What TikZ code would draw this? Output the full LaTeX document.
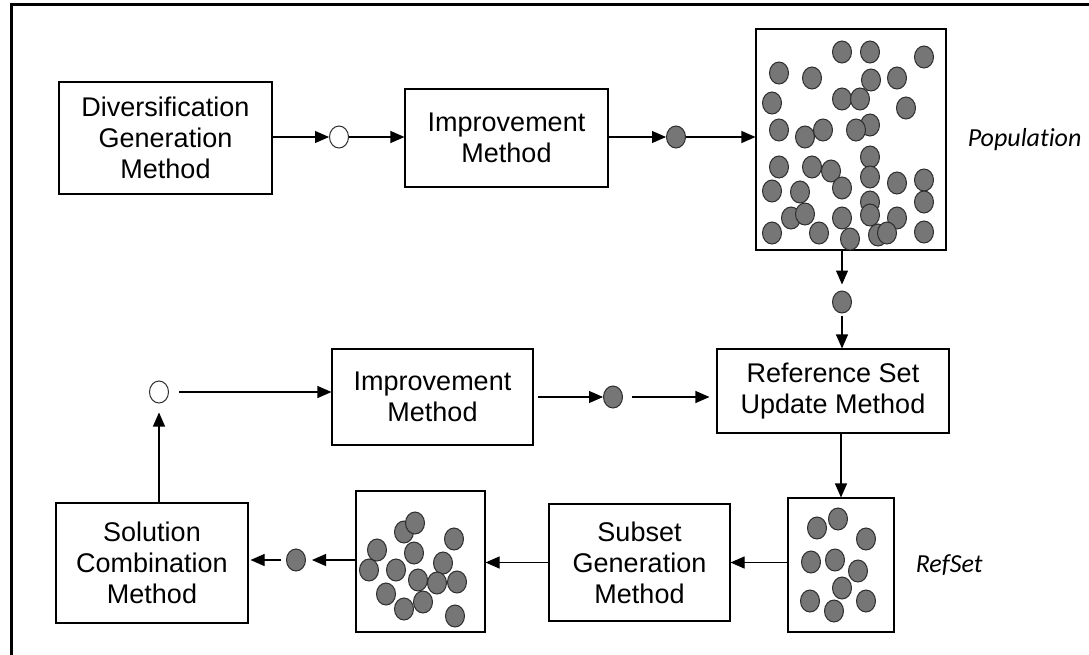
\documentclass[tikz,border=0pt]{standalone}
\usepackage{fontspec}
\setmainfont{Liberation Sans}
\newfontfamily\calfont[Ligatures=NoCommon]{Carlito}
\usetikzlibrary{positioning,arrows.meta,shapes.geometric}
\definecolor{dotc}{RGB}{118,118,118}
\definecolor{dotline}{RGB}{45,45,45}
\tikzset{
  blk/.style={draw,line width=1.1pt,align=center,inner sep=0pt,font=\fontsize{27}{31}\selectfont},
  sol/.style={draw=dotline,line width=1pt,ellipse,minimum width=19pt,minimum height=22pt,inner sep=0pt},
  fullsol/.style={sol,fill=dotc},
  opensol/.style={sol,fill=white},
  dot/.style={draw=dotline,fill=dotc,line width=1pt},
  tag/.style={inner sep=0pt,font=\calfont\itshape\fontsize{26}{30}\selectfont},
  ar/.style={-{Triangle[length=14pt,width=12pt]},line width=1.1pt},
}

\begin{document}
\begin{tikzpicture}[x=1pt,y=-1pt]
  \useasboundingbox (0,0) rectangle (1089,654);
  \draw[line width=3pt] (11,660) |- (1095,4);
  % top row
  \node[blk,minimum width=213pt,minimum height=112pt] (div) at (165.5,138) {Diversification\\Generation\\Method};
  \node[opensol] (o1) at (339,137) {};
  \node[blk,minimum width=203pt,minimum height=98pt] (imp1) at (506.5,138) {Improvement\\Method};
  \node[fullsol] (f1) at (676,137) {};
  \node[blk,minimum width=190pt,minimum height=221pt] (pop) at (851,139.5) {};
  \node[tag,right=21pt of pop] (poplbl) {Population};
  \foreach \px/\py in {842/52,870/52,924/57,779/73,812/78,871/80,897/78,772/103,842/99,860/99,
      906/108,779/130,805/137,823/130,870/125,856/130,779/167,812/167,831/171,870/157,870/177,
      842/188,772/191,800/192,897/183,924/180,924/202,870/202,791/218,805/214,842/218,870/215,
      897/218,772/233,819/233,850/239,878/235,887/233,924/232}
    \draw[dot] (\px,\py) ellipse [x radius=9.5,y radius=11];
  % right column
  \node[fullsol] (f2) at (842,302) {};
  \node[blk,minimum width=232pt,minimum height=84pt] (rsu) at (833,391) {Reference Set\\Update Method};
  \node[blk,minimum width=106pt,minimum height=134pt] (refset) at (841,565) {};
  \node[tag,right=21pt of refset] (reflbl) {RefSet};
  \foreach \px/\py in {817/528,838/519,866/539,811/562,835/560,858/571,842/588,810/601,834/611,866/601}
    \draw[dot] (\px,\py) ellipse [x radius=9.5,y radius=11];
  % bottom row
  \node[blk,minimum width=181pt,minimum height=117pt] (subgen) at (639.5,562.5) {Subset\\Generation\\Method};
  \node[blk,minimum width=129pt,minimum height=141pt] (subs) at (420.5,561.5) {};
  \foreach \px/\py in {404/532,415/523,454/539,377/550,414/553,369/570,396/570,443/563,418/580,
      437/583,457/582,386/594,423/602,404/609,455/616}
    \draw[dot] (\px,\py) ellipse [x radius=9.5,y radius=11];
  \node[fullsol] (f4) at (296,560) {};
  \node[blk,minimum width=192pt,minimum height=120pt] (comb) at (152,563) {Solution\\Combination\\Method};
  % middle row
  \node[opensol] (o2) at (159,392) {};
  \node[blk,minimum width=201pt,minimum height=96pt] (imp2) at (432.5,397) {Improvement\\Method};
  \node[fullsol] (f3) at (613,397) {};
  % arrows
  \draw[ar] (div.east |- o1) -- (o1.west);
  \draw[ar] (o1.east) -- (o1 -| imp1.west);
  \draw[ar] (imp1.east |- f1) -- (f1.west);
  \draw[ar] (f1.east) -- (f1 -| pop.west);
  \draw[ar,shorten >=6pt] (f2 |- pop.south) -- (f2.north);
  \draw[ar,shorten <=2pt] (f2.south) -- (f2 |- rsu.north);
  \draw[ar] (refset |- rsu.south) -- (refset.north);
  \draw[ar] (refset.west |- subgen) -- (subgen.east);
  \draw[ar] (subgen.west) -- (subs.east |- subgen);
  \draw[ar,shorten >=6pt] (subs.west |- f4) -- (f4.east);
  \draw[ar,shorten <=5pt,shorten >=2pt] (f4.west) -- (f4 -| comb.east);
  \draw[ar,shorten >=9pt] (o2 |- comb.north) -- (o2.south);
  \draw[ar,shorten <=10pt] (o2.east) -- (o2 -| imp2.west);
  \draw[ar,shorten <=4pt] (imp2.east |- f3) -- (f3.west);
  \draw[ar,shorten <=9pt,shorten >=7pt] (f3.east) -- (f3 -| rsu.west);
\end{tikzpicture}
\end{document}
